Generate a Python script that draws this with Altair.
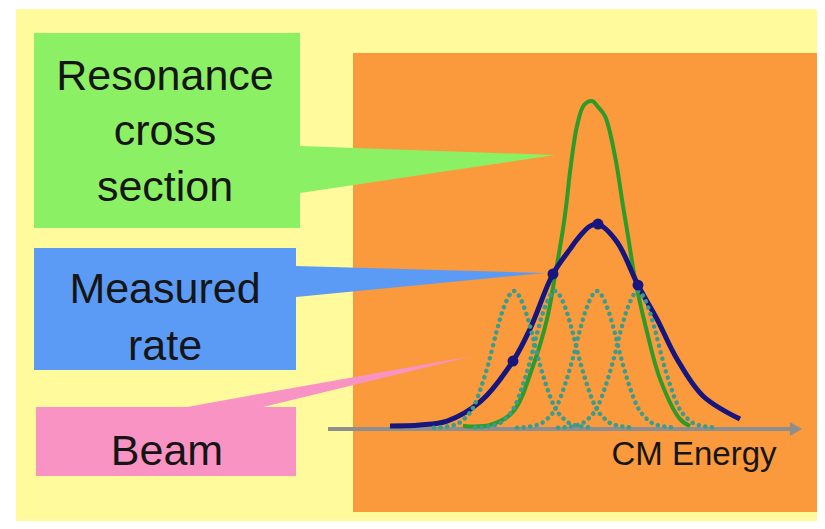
import altair as alt
import pandas as pd

# ---- values (energy in arbitrary units, rate in arbitrary units) ----
# resonance cross section (solid green)
xsec_energy = [27.0, 32.4, 37.0, 41.0, 43.8, 45.4, 47.0, 47.8, 48.4, 49.8, 51.2, 52.8,
               54.0, 55.4, 57.4, 59.0, 60.0, 61.4, 63.8, 66.4, 70.4, 72.4]
xsec_value = [0.9, 1.2, 5.2, 19.1, 33.3, 46.4, 60.6, 69.7, 77.9, 91.8, 98.2, 99.4,
              97.6, 94.8, 82.7, 67.6, 58.5, 45.5, 29.4, 15.2, 3.0, 0.9]

# measured rate (navy)
rate_energy = [12.4, 18.4, 23.8, 30.4, 37.0, 40.4, 45.0, 48.4, 50.4, 52.4, 54.0,
               57.8, 62.0, 65.8, 69.8, 75.0, 82.4]
rate_value = [0.9, 1.2, 2.4, 8.2, 20.6, 30.3, 47.0, 54.5, 58.5, 61.5, 62.1,
              56.7, 43.6, 33.3, 21.2, 10.0, 3.0]

# measured points (navy dots)
point_energy = [37.0, 45.0, 54.0, 62.0]
point_value = [20.6, 47.0, 62.1, 43.6]

# beam energy spread (dotted teal): one profile, four beam settings
beam_centers = [37.2, 45.4, 53.8, 62.0]
beam_offsets = [-16, -12, -10, -8, -6.5, -5, -3.5, -2, 0, 2, 3.5, 5, 6.5, 8, 10, 12, 16]
beam_heights = [0.4, 1.2, 3.0, 7.0, 13.0, 20.5, 29.5, 37.0, 41.8, 37.0, 29.5, 20.5,
                13.0, 7.0, 3.0, 1.2, 0.4]

# energy axis
axis_span = [0, 92.4]
axis_arrow = 93.6

labels = ['Resonance', 'cross', 'section', 'Measured', 'rate', 'Beam', 'CM Energy']

# ---- layout (plot pixels) ----
W, H = 809, 513
E_DOMAIN = [-64, 97.8]
R_DOMAIN = [-27.88, 127.58]

panels_df = pd.DataFrame({
    'x':  [8, 345, 26, 26, 28],
    'x2': [W, W, 292, 288, 288],
    'y':  [1, 45, 25, 240, 399],
    'y2': [H, 504, 220, 362, 468],
    'fill': ['#FFFB9C', '#FA9A3C', '#8CF064', '#5B9BF5', '#F993C3'],
})

pointers_df = pd.DataFrame({
    'name': ['g', 'g', 'b', 'b', 'p', 'p', 'p'],
    'x':  [292, 547, 288, 537, 179, 255, 465],
    'y':  [138, 147, 258, 265, 399, 399, 348],
    'y2': [185, 147, 289, 265, 399, 385.2, 348],
    'fill': ['#8CF064', '#8CF064', '#5B9BF5', '#5B9BF5', '#F993C3', '#F993C3', '#F993C3'],
})

text_df = pd.DataFrame({
    'label': labels,
    'x': [157, 157, 157, 157, 157, 159, 686],
    'y': [82, 137, 193, 295, 352, 457, 457],
    'fs': [43, 43, 43, 43, 43, 43, 33],
})

xsec_df = pd.DataFrame({'e': xsec_energy, 'r': xsec_value})
rate_df = pd.DataFrame({'e': rate_energy, 'r': rate_value})
pts_df = pd.DataFrame({'e': point_energy, 'r': point_value})
beam_df = pd.DataFrame([
    {'beam': i, 'e': c + o, 'r': h}
    for i, c in enumerate(beam_centers)
    for o, h in zip(beam_offsets, beam_heights)
])
axis_df = pd.DataFrame({'e0': [axis_span[0]], 'e1': [axis_span[1]], 'r': [0.0]})
arrow_df = pd.DataFrame({'e': [axis_arrow], 'r': [0.0]})


def ex(field):
    return alt.X(field, type='quantitative', axis=None,
                 scale=alt.Scale(domain=E_DOMAIN, nice=False, zero=False))


def ry(field):
    return alt.Y(field, type='quantitative', axis=None,
                 scale=alt.Scale(domain=R_DOMAIN, nice=False, zero=False))


panels = alt.Chart(panels_df).mark_rect().encode(
    x=alt.X('x:Q', scale=None, axis=None), x2='x2:Q',
    y=alt.Y('y:Q', scale=None, axis=None), y2='y2:Q',
    color=alt.Color('fill:N', scale=None),
)

pointers = alt.Chart(pointers_df).mark_area(orient='vertical', interpolate='linear', opacity=1).encode(
    x=alt.X('x:Q', scale=None, axis=None),
    y=alt.Y('y:Q', scale=None, axis=None, stack=False), y2='y2:Q',
    color=alt.Color('fill:N', scale=None),
    detail='name:N',
)

axis_line = alt.Chart(axis_df).mark_rule(color='#8E8E8E', strokeWidth=4).encode(
    x=ex('e0'), x2='e1:Q', y=ry('r'))

arrow = alt.Chart(arrow_df).mark_point(shape='triangle-right', filled=True, size=200,
                                       color='#8E8E8E', opacity=1).encode(x=ex('e'), y=ry('r'))

xsec = alt.Chart(xsec_df).mark_line(interpolate='catmull-rom', color='#2E9A28', strokeWidth=4).encode(
    x=ex('e'), y=ry('r'))

rate = alt.Chart(rate_df).mark_line(interpolate='catmull-rom', color='#16167E', strokeWidth=5).encode(
    x=ex('e'), y=ry('r'))

beams = alt.Chart(beam_df).mark_line(interpolate='monotone', color='#3C9C8C', strokeWidth=4.5,
                                     strokeDash=[0.1, 6.5], strokeCap='round').encode(
    x=ex('e'), y=ry('r'), detail='beam:N')

dots = alt.Chart(pts_df).mark_circle(size=120, color='#16167E', opacity=1).encode(
    x=ex('e'), y=ry('r'))

texts = alt.Chart(text_df).mark_text(font='Liberation Sans', align='center', baseline='alphabetic',
                                     color='#151515').encode(
    x=alt.X('x:Q', scale=None, axis=None),
    y=alt.Y('y:Q', scale=None, axis=None),
    size=alt.Size('fs:Q', scale=None),
    text='label:N',
)

chart = alt.layer(
    panels, pointers, axis_line, arrow, xsec, rate, beams, dots, texts
).resolve_scale(
    x='independent', y='independent', color='independent', size='independent'
).properties(
    width=W, height=H, padding=0
).configure_view(strokeWidth=0)

chart.save("out.html", embed_options={"renderer": "svg", "actions": False})
